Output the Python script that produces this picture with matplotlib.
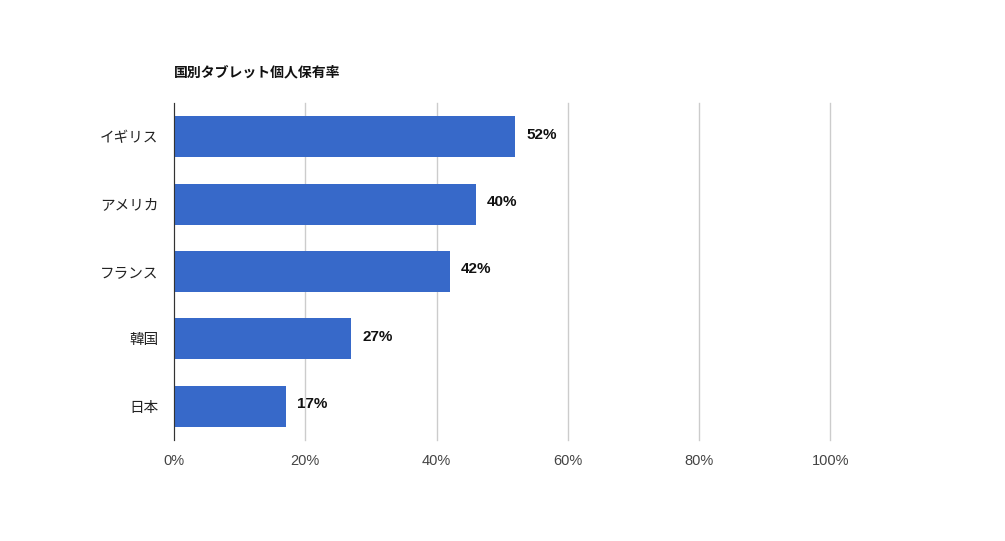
import matplotlib
matplotlib.use("Agg")
import matplotlib.pyplot as plt

plt.rcParams['font.family'] = ['Liberation Sans', 'Noto Sans CJK JP', 'DejaVu Sans']

countries = ['イギリス', 'アメリカ', 'フランス', '韓国', '日本']
values = [52, 46, 42, 27, 17]
value_labels = ['52%', '40%', '42%', '27%', '17%']
xticks = [0, 20, 40, 60, 80, 100]
xtick_labels = ['0%', '20%', '40%', '60%', '80%', '100%']

fig = plt.figure(figsize=(10.05, 5.41), dpi=100)
ax = fig.add_axes([0.1731, 0.1867, 0.6532, 0.6229])

pos = list(range(len(countries)))
ax.barh(pos, values, height=0.61, color='#3769c9', zorder=3)
for p, v, lab in zip(pos, values, value_labels):
    ax.text(v + 1.7, p - 0.03, lab, va='center', ha='left', fontsize=11,
            fontweight='bold', color='#111111')

ax.set_xlim(0, 100)
ax.set_ylim(len(countries) - 0.5, -0.5)
ax.set_yticks(pos)
ax.set_yticklabels(countries, fontsize=10.5, color='#222222')
ax.set_xticks(xticks)
ax.set_xticklabels(xtick_labels, fontsize=10.5, color='#444444')
ax.tick_params(axis='y', length=0, pad=11)
ax.tick_params(axis='x', length=0, pad=10)
ax.grid(axis='x', color='#cccccc', linewidth=1, zorder=0)
for gl in ax.get_xgridlines():
    gl.set_clip_on(False)
for s in ['top', 'right', 'bottom']:
    ax.spines[s].set_visible(False)
ax.spines['left'].set_color('#333333')
ax.spines['left'].set_zorder(4)

fig.text(0.1731, 1 - 72 / 541, '国別タブレット個人保有率', fontsize=10,
         fontweight='bold', va='center', ha='left', color='#111111')

fig.savefig('out.png', dpi=100)
